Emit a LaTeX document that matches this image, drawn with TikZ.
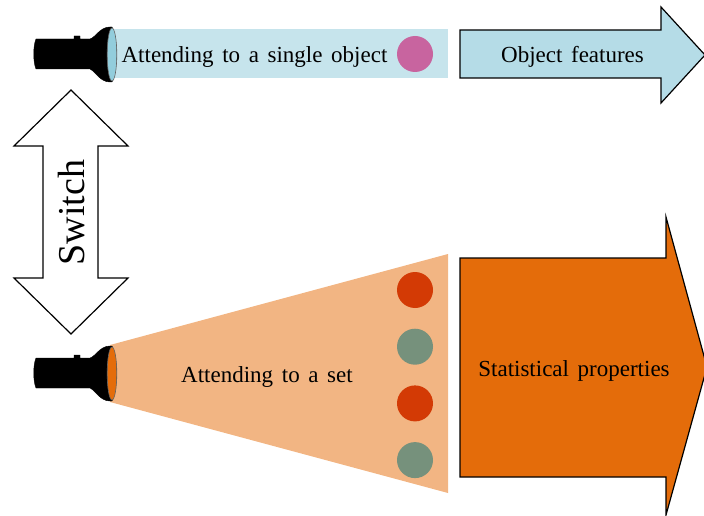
\documentclass[tikz,border=0pt]{standalone}
\usepackage{fontspec}
\setmainfont[WordSpace=1.5]{Liberation Serif}
\usetikzlibrary{positioning}
\definecolor{beamblue}{HTML}{C6E4EC}
\definecolor{arrowblue}{HTML}{B5DCE7}
\definecolor{lensblue}{HTML}{92CDDC}
\definecolor{beamorange}{HTML}{F2B583}
\definecolor{arroworange}{HTML}{E46C0A}
\definecolor{dotred}{HTML}{D33A05}
\definecolor{dotgreen}{HTML}{76917C}
\definecolor{dotpink}{HTML}{C8649F}

\begin{document}
\begin{tikzpicture}[x=1pt, y=-1pt, dot/.style={circle, minimum size = 36pt, inner sep = 0pt}, label/.style={inner sep = 0pt, font=\fontsize{23}{27}\selectfont}, bigarrow/.style={draw=black, line width = 1.2pt, miter limit = 10}, lamp/.style={fill=black, draw=black, line join=round}, node distance = 20.3pt, flashlight/.pic={
        \path[lamp] (36,-15) -- (74,-15) -- (74,-18) -- (80,-18) -- (80,-15) -- (90,-15) .. controls (96,-17) and (100,-27) .. (110,-27) -- (112,-27) .. controls (118,-15) and (118,15) .. (112,28) -- (110,28) .. controls (100,28) and (96,18) .. (90,15) -- (36,15) .. controls (33,8) and (33,-8) .. (36,-15) -- cycle;
        \path[fill=\pgfkeysvalueof{/tikz/lenscolor}, draw=black!60, line width = 0.6pt] (112,0.5) ellipse (4.8 and 26.5);
      }, lenscolor/.initial=lensblue]
      \useasboundingbox (0,0) rectangle (704,516);

      \path[fill=beamblue] (112,29) rectangle (448,78);

      \path[fill=beamorange] (110,345) -- (448,254) -- (448,493) -- (110,402) -- cycle;

      \pic at (0,54) {flashlight};

      \pic[lenscolor=arroworange] at (0,373) {flashlight};

      \path[bigarrow, fill=arrowblue] (460,30) -- (661,30) -- (661,7) -- (705,55) -- (661,103) -- (661,78) -- (460,78) -- cycle;

      \path[bigarrow, fill=arroworange] (460,258) -- (666,258) -- (666,217) -- (707,367) -- (666,515) -- (666,477) -- (460,477) -- cycle;

      \path[bigarrow, fill=white] (71,90) -- (128,146) -- (98,146) -- (98,278) -- (128,278) -- (71,334) -- (14,278) -- (43,278) -- (43,146) -- (14,146) -- cycle;

      \node [dot, fill=dotpink] (single) at (415,54) {};

      \node [dot, fill=dotred] (setA) at (415,290) {};

      \node [dot, fill=dotgreen, below = of setA] (setB) {};

      \node [dot, fill=dotred, below = of setB] (setC) {};

      \node [dot, fill=dotgreen, below = of setC] (setD) {};

      \node [label] (singleText) at (254.5,57) {Attending to a single object};

      \node [label] (setText) at (267,377) {Attending to a set};

      \node [label] (featText) at (572.5,57) {Object features};

      \node [label] (statText) at (574,371) {Statistical properties};

      \node [label, font=\fontsize{38}{42}\selectfont, rotate=90] (switchText) at (72,212.5) {Switch};
    \end{tikzpicture}
\end{document}
